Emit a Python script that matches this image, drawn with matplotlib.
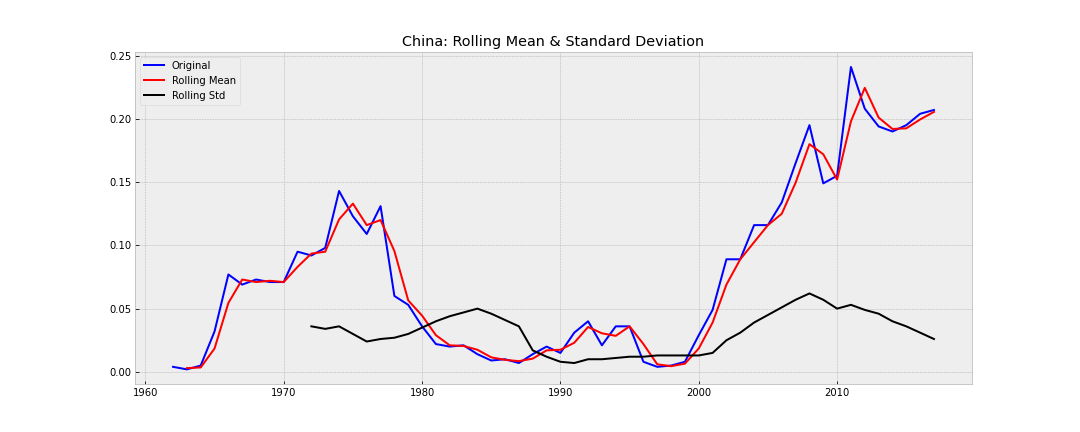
import numpy as np
import pandas as pd
import matplotlib
matplotlib.use('Agg')
import matplotlib.pyplot as plt

plt.style.use('bmh')

years = list(range(1962, 2018))
original = [0.004, 0.002, 0.005, 0.032, 0.077, 0.069, 0.073, 0.071, 0.071, 0.095,
            0.092, 0.098, 0.143, 0.123, 0.109, 0.131, 0.060, 0.053, 0.036, 0.022,
            0.020, 0.021, 0.014, 0.009, 0.010, 0.007, 0.014, 0.020, 0.015, 0.031,
            0.040, 0.021, 0.036, 0.036, 0.008, 0.004, 0.005, 0.008, 0.029, 0.049,
            0.089, 0.089, 0.116, 0.116, 0.134, 0.165, 0.195, 0.149, 0.155, 0.241,
            0.208, 0.194, 0.190, 0.195, 0.204, 0.207]
std_years = list(range(1972, 2018))
rolling_std = [0.036, 0.034, 0.036, 0.030, 0.024, 0.026, 0.027, 0.030, 0.035, 0.040,
               0.044, 0.047, 0.050, 0.046, 0.041, 0.036, 0.017, 0.012, 0.008, 0.007,
               0.010, 0.010, 0.011, 0.012, 0.012, 0.013, 0.013, 0.013, 0.013, 0.015,
               0.025, 0.031, 0.039, 0.045, 0.051, 0.057, 0.062, 0.057, 0.050, 0.053,
               0.049, 0.046, 0.040, 0.036, 0.031, 0.026]

ts = pd.Series(original, index=years)
rolmean = ts.rolling(window=2).mean()

fig = plt.figure(figsize=(15, 6), dpi=72)
plt.plot(years, original, color='blue', label='Original')
plt.plot(rolmean.index, rolmean.values, color='red', label='Rolling Mean')
plt.plot(std_years, rolling_std, color='black', label='Rolling Std')
plt.legend(loc='best')
plt.title('China: Rolling Mean & Standard Deviation')
plt.savefig('out.png', dpi=72)
